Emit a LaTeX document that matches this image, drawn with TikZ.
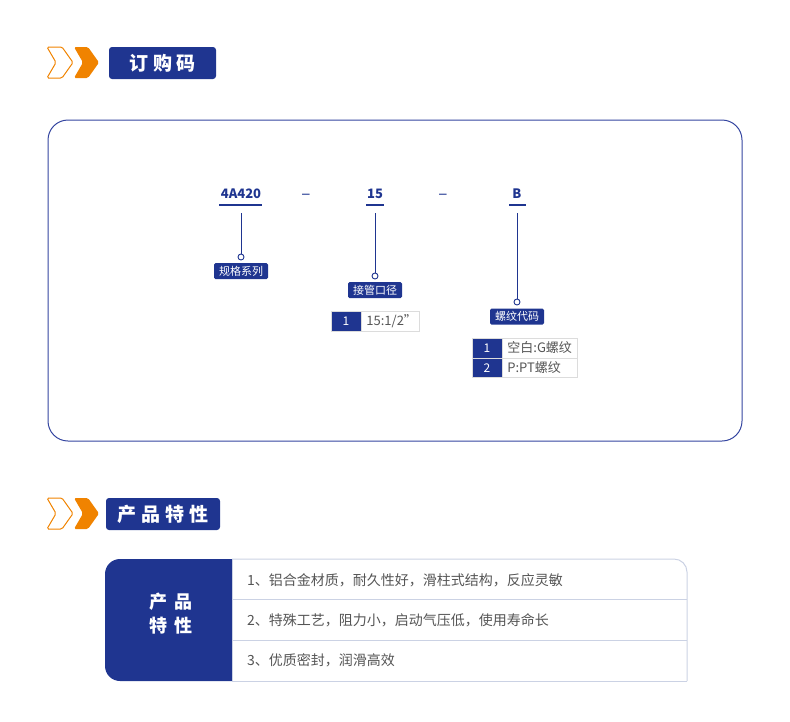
\documentclass[tikz,border=0pt]{standalone}
\usepackage{fontspec}
\setmainfont{Noto Sans CJK SC}
\newfontfamily\headfont[LetterSpace=25]{Noto Sans CJK SC}
\newfontfamily\cellfont[LetterSpace=40]{Noto Sans CJK SC}
\usetikzlibrary{positioning}
\definecolor{navy}{HTML}{1F3590}
\definecolor{frame}{HTML}{3445A0}
\definecolor{amber}{HTML}{F08300}
\definecolor{ink}{HTML}{555555}
\definecolor{rule}{HTML}{CBD2E4}
\definecolor{cellline}{HTML}{DCDCDC}
\tikzset{>=latex}

\begin{document}
\begin{tikzpicture}[x=1pt, y=-1pt,
    headbox/.style={fill=navy, rounded corners=3pt, text=white, inner sep=0pt,
        minimum height=32pt, font=\headfont\bfseries\fontsize{19}{21}\selectfont},
    code/.style={text=navy, inner sep=0pt, font=\bfseries\fontsize{13}{15}\selectfont},
    uline/.style={navy, line width=2.6pt},
    stem/.style={navy, line width=.9pt},
    dot/.style={circle, draw=navy, line width=.9pt, fill=white, inner sep=0pt, minimum size=6pt},
    tag/.style={fill=navy, rounded corners=1.5pt, text=white, inner sep=0pt,
        minimum width=54pt, minimum height=16pt, font=\fontsize{11}{12}\selectfont},
    keycell/.style={fill=navy, draw=cellline, text=white, inner sep=0pt,
        minimum width=30pt, minimum height=19.5pt, font=\fontsize{12}{13}\selectfont},
    valcell/.style={draw=cellline, text=ink, inner xsep=5pt, inner ysep=0pt, align=left,
        minimum height=19.5pt, font=\fontsize{13}{14}\selectfont},
    rowtxt/.style={text=ink, inner sep=0pt, anchor=west, font=\fontsize{14}{16}\selectfont}]
    \useasboundingbox (0,0) rectangle (790,721);

    % chevrons in front of the two headings
    \foreach \y in {0,451} {
        \draw[amber, line width=1pt, rounded corners=1.5pt] (47,\y+47)--(62,\y+47)--(73,\y+62.5)--(62,\y+78)--(47,\y+78)--(56,\y+62.5)--cycle;
        \fill[amber, rounded corners=1.5pt] (74,\y+47)--(88,\y+47)--(99,\y+62.5)--(88,\y+78)--(74,\y+78)--(83,\y+62.5)--cycle;
    }
    \node[headbox, minimum width=107pt] (h1) at (162.5,63) {订购码};
    \node[headbox, minimum width=114pt] (h2) at (163,514) {产品特性};

    % order code
    \draw[frame, line width=1pt, rounded corners=20pt] (48,120) rectangle (742,441);
    \node[code] (c1) at (241,194) {4A420};
    \node[code] (c2) at (375,194) {15};
    \node[code] (c3) at (517,194) {B};
    \node[code, font=\fontsize{17}{18}\selectfont] (d1) at (306,197) {–};
    \node[code, font=\fontsize{17}{18}\selectfont] (d2) at (443,197) {–};
    \draw[uline] (219,205)--(262,205);
    \draw[uline] (366,205)--(384,205);
    \draw[uline] (509,205)--(526,205);

    \coordinate (c1b) at (241,213);
    \coordinate (c2b) at (375,213);
    \coordinate (c3b) at (517,213);
    \node[dot] (o1) at (241,257) {};
    \node[dot] (o2) at (375,276) {};
    \node[dot] (o3) at (517,302) {};
    \draw[stem] (c1b)--(o1);
    \draw[stem] (c2b)--(o2);
    \draw[stem] (c3b)--(o3);
    \node[tag, below=2.5pt of o1] (l1) {规格系列};
    \node[tag, below=2.5pt of o2] (l2) {接管口径};
    \node[tag, below=3pt of o3] (l3) {螺纹代码};

    \node[keycell] (t1k) at (346,321) {1};
    \node[valcell, right=0pt of t1k, text width=48pt] (t1v) {15:1/2”};
    \node[keycell] (t2k1) at (487,348) {1};
    \node[keycell, below=0pt of t2k1] (t2k2) {2};
    \node[valcell, right=0pt of t2k1, text width=65pt] (t2v1) {空白:G螺纹};
    \node[valcell, right=0pt of t2k2, text width=65pt] (t2v2) {P:PT螺纹};

    % product features
    \begin{scope}
        \clip (100,555) rectangle (232.5,685);
        \fill[navy, rounded corners=15pt] (105,559) rectangle (260,681);
    \end{scope}
    \draw[rule, line width=1pt, rounded corners=13pt] (232,559)--(687,559)--(687,681);
    \draw[rule, line width=1pt] (687,681)--(232,681);
    \draw[rule, line width=1pt] (232,559)--(232,681);
    \draw[rule, line width=1pt] (232,599.5)--(687,599.5);
    \draw[rule, line width=1pt] (232,640)--(687,640);
    \node[text=white, align=center, inner sep=0pt, font=\cellfont\bfseries\fontsize{18}{24}\selectfont] (f0) at (171,614) {产品\\特性};
    \node[rowtxt] (r1) at (247,580) {1、铝合金材质，耐久性好，滑柱式结构，反应灵敏};
    \node[rowtxt] (r2) at (247,620) {2、特殊工艺，阻力小，启动气压低，使用寿命长};
    \node[rowtxt] (r3) at (247,660) {3、优质密封，润滑高效};
\end{tikzpicture}
\end{document}
